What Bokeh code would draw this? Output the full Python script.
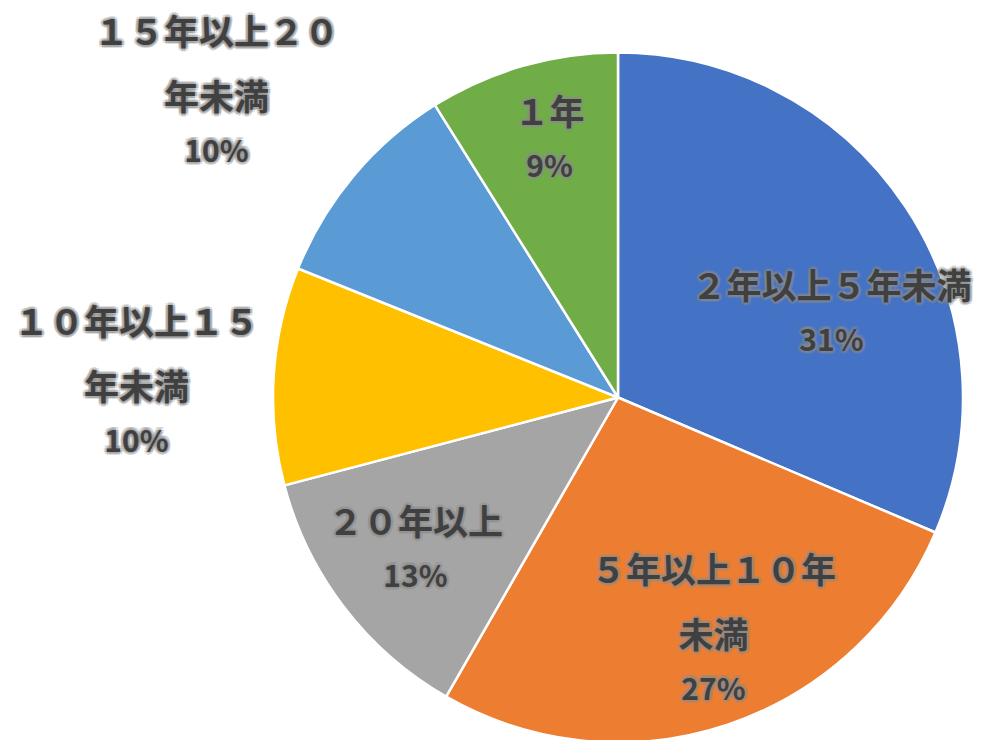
import math
from bokeh.plotting import figure
from bokeh.models import ColumnDataSource, Range1d
from bokeh.core.properties import value
from bokeh.embed import file_html
from bokeh.resources import INLINE

# ---- data ----
categories = ["２年以上５年未満", "５年以上１０年未満", "２０年以上",
              "１０年以上１５年未満", "１５年以上２０年未満", "１年"]
shares = [31.4, 26.9, 12.6, 10.2, 10.0, 8.9]
colors = ["#4472C4", "#ED7D31", "#A5A5A5", "#FFC000", "#5B9BD5", "#70AD47"]
# label line breaks as shown on the chart
label_lines = [["２年以上５年未満"], ["５年以上１０年", "未満"], ["２０年以上"],
               ["１０年以上１５", "年未満"], ["１５年以上２０", "年未満"], ["１年"]]

# ---- layout (pixels, measured from top-left of the picture) ----
W, H = 985, 740
CX_PX, CY_PX, R = 617.5, 397, 345
label_anchor = [(831, 283), (713, 567), (415, 519), (136, 319), (216, 29), (549, 109)]
NAME_STEP, PCT_STEP = 65, 54


def dy(py):
    return H - py


total = sum(shares)
starts, ends = [], []
cum = 0.0
for v in shares:
    a0 = math.pi / 2 - 2 * math.pi * cum / total
    cum += v
    a1 = math.pi / 2 - 2 * math.pi * cum / total
    starts.append(a1)
    ends.append(a0)

src = ColumnDataSource(dict(cat=categories, share=shares, color=colors,
                            start=starts, end=ends,
                            x=[CX_PX] * len(shares), y=[dy(CY_PX)] * len(shares)))

p = figure(width=W, height=H, output_backend="svg", toolbar_location=None,
           x_range=Range1d(0, W), y_range=Range1d(0, H),
           min_border=0, outline_line_color=None)
p.axis.visible = False
p.grid.visible = False
p.background_fill_color = "white"
p.border_fill_color = "white"

p.wedge(x="x", y="y", radius=R, start_angle="start", end_angle="end",
        fill_color="color", line_color="white", line_width=2.5, source=src)

name_t, name_x, name_y = [], [], []
pct_t, pct_x, pct_y = [], [], []
for lines, v, (lx, ly) in zip(label_lines, shares, label_anchor):
    y = ly
    for i, ln in enumerate(lines):
        name_t.append(ln)
        name_x.append(lx)
        name_y.append(dy(y))
        if i < len(lines) - 1:
            y += NAME_STEP
    y += PCT_STEP
    pct_t.append(f"{round(v / total * 100)}%")
    pct_x.append(lx)
    pct_y.append(dy(y))

nsrc = ColumnDataSource(dict(x=name_x, y=name_y, t=name_t))
psrc = ColumnDataSource(dict(x=pct_x, y=pct_y, t=pct_t))

font = value("Noto Sans CJK JP")
common = dict(text="t", text_font=font, text_font_style="bold",
              text_align="center", text_baseline="middle")

# soft glow behind labels
glow_offsets = [(-3, 0), (3, 0), (0, -3), (0, 3),
                (-2.2, -2.2), (2.2, 2.2), (-2.2, 2.2), (2.2, -2.2),
                (-1.5, 0), (1.5, 0), (0, -1.5), (0, 1.5)]
for ox, oy in glow_offsets:
    p.text(x="x", y="y", source=nsrc, x_offset=ox, y_offset=oy,
           text_font_size="35px", text_color="#8c8c8c", text_alpha=0.3, **common)
    p.text(x="x", y="y", source=psrc, x_offset=ox, y_offset=oy,
           text_font_size="30px", text_color="#8c8c8c", text_alpha=0.3, **common)

p.text(x="x", y="y", source=nsrc, text_font_size="35px", text_color="#404040", **common)
p.text(x="x", y="y", source=psrc, text_font_size="30px", text_color="#404040", **common)

open("out.html", "w").write(file_html(p, INLINE))
